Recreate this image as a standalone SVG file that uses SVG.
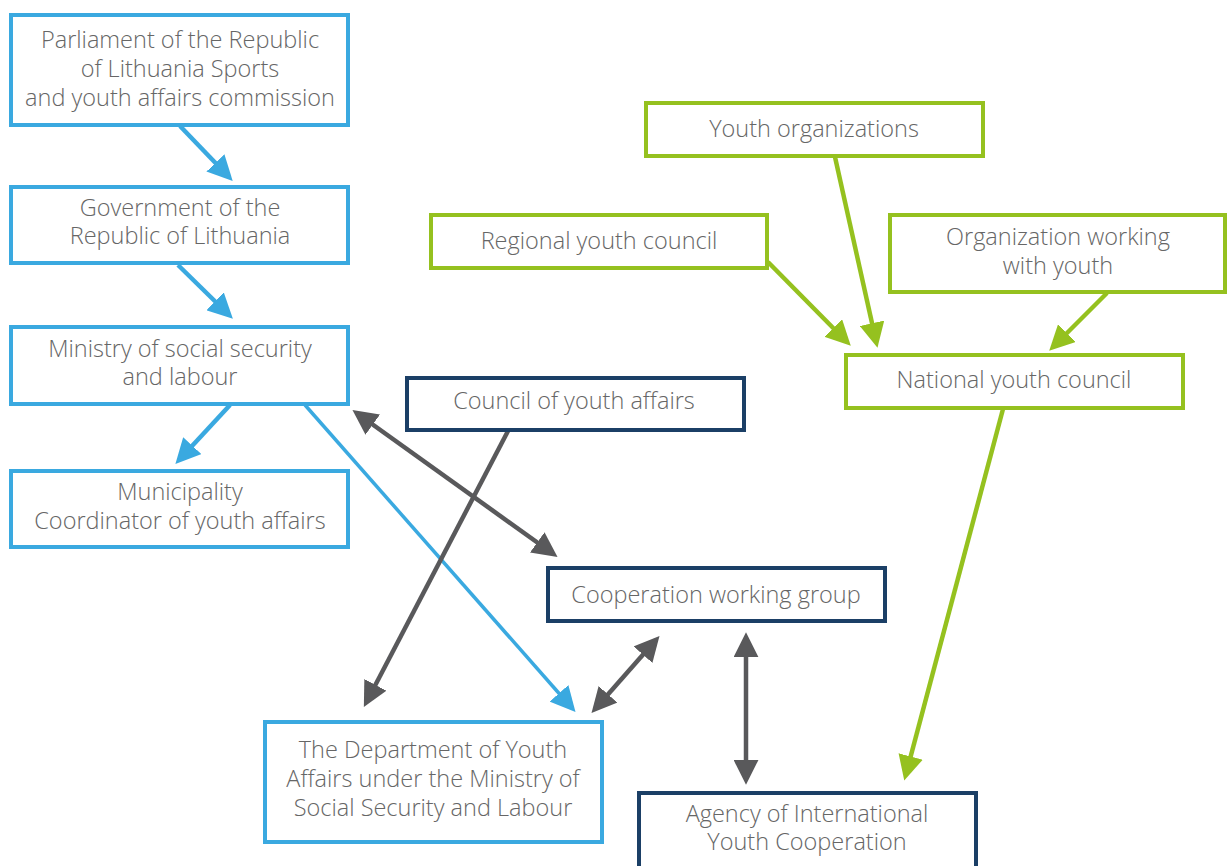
<svg xmlns="http://www.w3.org/2000/svg" width="1227" height="866" viewBox="0 0 1227 866">
<style>
.box{fill:#fff;stroke-width:4}
.b{stroke:#3aa9e0}
.n{stroke:#1b3f66}
.g{stroke:#95c11f}
text{font-family:"Open Sans","Noto Sans","Liberation Sans",sans-serif;font-weight:300;font-size:23.5px;fill:#666;text-anchor:middle}
.c{fill:none;stroke-width:4.5}
.cb{stroke:#3aa9e0}
.cg{stroke:#95c11f}
.cd{stroke:#59595b}
</style>
<defs>
<marker id="ab" viewBox="0 0 22 22" markerUnits="userSpaceOnUse" markerWidth="25" markerHeight="25" refX="16" refY="11" orient="auto-start-reverse"><path d="M0,0 L22,11 L0,22 z" fill="#3aa9e0"/></marker>
<marker id="ag" viewBox="0 0 22 22" markerUnits="userSpaceOnUse" markerWidth="25" markerHeight="25" refX="16" refY="11" orient="auto-start-reverse"><path d="M0,0 L22,11 L0,22 z" fill="#95c11f"/></marker>
<marker id="ad" viewBox="0 0 22 22" markerUnits="userSpaceOnUse" markerWidth="25" markerHeight="25" refX="16" refY="11" orient="auto-start-reverse"><path d="M0,0 L22,11 L0,22 z" fill="#59595b"/></marker>
</defs>
<g id="connectors">
<line class="c cb" x1="180" y1="126" x2="228" y2="176" marker-end="url(#ab)"/>
<line class="c cb" x1="178" y1="265" x2="228" y2="314" marker-end="url(#ab)"/>
<line class="c cb" x1="230" y1="405" x2="180" y2="459" marker-end="url(#ab)"/>
<line class="c cb" x1="305" y1="405" x2="571" y2="707" marker-end="url(#ab)" style="stroke-width:3.5"/>
<line class="c cd" x1="358" y1="414" x2="552" y2="553" marker-start="url(#ad)" marker-end="url(#ad)"/>
<line class="c cd" x1="508" y1="431" x2="367" y2="701" marker-end="url(#ad)"/>
<line class="c cd" x1="655" y1="641" x2="596" y2="708" marker-start="url(#ad)" marker-end="url(#ad)"/>
<line class="c cd" x1="746" y1="639" x2="746" y2="778" marker-start="url(#ad)" marker-end="url(#ad)"/>
<line class="c cg" x1="835" y1="157" x2="876" y2="341" marker-end="url(#ag)"/>
<line class="c cg" x1="768" y1="262" x2="846" y2="341" marker-end="url(#ag)"/>
<line class="c cg" x1="1107" y1="293" x2="1054" y2="346" marker-end="url(#ag)"/>
<line class="c cg" x1="1003" y1="409" x2="906" y2="774" marker-end="url(#ag)"/>
</g>
<g id="parliament"><rect class="box b" x="11" y="15" width="337" height="110"/><text x="180" y="48">Parliament of the Republic</text><text x="180" y="77">of Lithuania Sports</text><text x="180" y="106">and youth affairs commission</text></g>
<g id="government"><rect class="box b" x="11" y="187" width="337" height="76"/><text x="180" y="216">Government of the</text><text x="180" y="244">Republic of Lithuania</text></g>
<g id="ministry"><rect class="box b" x="11" y="327" width="337" height="77"/><text x="180" y="357">Ministry of social security</text><text x="180" y="385">and labour</text></g>
<g id="municipality"><rect class="box b" x="11" y="471" width="337" height="76"/><text x="180" y="500">Municipality</text><text x="180" y="529">Coordinator of youth affairs</text></g>
<g id="department"><rect class="box b" x="265" y="722" width="337" height="120"/><text x="433" y="758">The Department of Youth</text><text x="433" y="787">Affairs under the Ministry of</text><text x="433" y="816">Social Security and Labour</text></g>
<g id="council"><rect class="box n" x="407" y="378" width="337" height="52"/><text x="574" y="409">Council of youth affairs</text></g>
<g id="cooperation"><rect class="box n" x="548" y="568" width="337" height="53"/><text x="716" y="603">Cooperation working group</text></g>
<g id="agency"><rect class="box n" x="639" y="793" width="337" height="80"/><text x="807" y="822">Agency of International</text><text x="807" y="850">Youth Cooperation</text></g>
<g id="youth-orgs"><rect class="box g" x="646" y="103" width="337" height="53"/><text x="814" y="137">Youth organizations</text></g>
<g id="regional"><rect class="box g" x="431" y="215" width="336" height="53"/><text x="599" y="249">Regional youth council</text></g>
<g id="org-working"><rect class="box g" x="890" y="215" width="335" height="77"/><text x="1058" y="245">Organization working</text><text x="1058" y="274">with youth</text></g>
<g id="national"><rect class="box g" x="846" y="355" width="337" height="53"/><text x="1014" y="388">National youth council</text></g>
</svg>
